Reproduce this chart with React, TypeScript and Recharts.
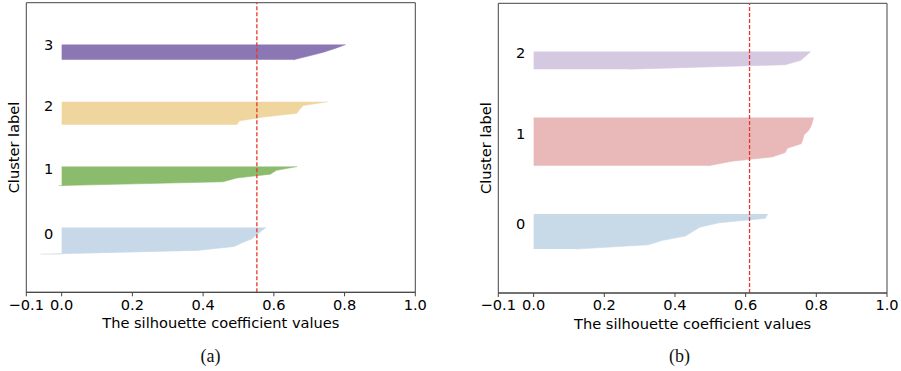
import React from 'react';
import { ComposedChart, Area, XAxis, YAxis, ReferenceLine, ReferenceArea, Scatter } from 'recharts';

const FONT = '"DejaVu Sans", sans-serif';
const FS = 14.6;

// ---- Panel (a): 4 clusters ----
const clusterLabelsA = ['0', '1', '2', '3'];
const silA0 = [-0.06, 0.383, 0.488, 0.51, 0.537, 0.55, 0.564, 0.578];
const silA1 = [-0.008, 0.456, 0.495, 0.59, 0.607, 0.666];
const silA2 = [0.495, 0.503, 0.57, 0.665, 0.673, 0.683, 0.752];
const silA3 = [0.655, 0.698, 0.74, 0.773, 0.803];
const avgA = 0.552;
const colorsA = ['#c7d9e8', '#8bbb6c', '#efd59e', '#8c77b5'];

// ---- Panel (b): 3 clusters ----
const clusterLabelsB = ['0', '1', '2'];
const silB0 = [0.12, 0.325, 0.365, 0.43, 0.45, 0.47, 0.525, 0.655, 0.663];
const silB1 = [0.495, 0.56, 0.675, 0.712, 0.718, 0.757, 0.762, 0.765, 0.778, 0.785, 0.789, 0.792];
const silB2 = [0.27, 0.712, 0.756, 0.77, 0.784];
const avgB = 0.611;
const colorsB = ['#c8dae8', '#e8b9b8', '#d5c8e1'];

const xTicks = [-0.1, 0.0, 0.2, 0.4, 0.6, 0.8, 1.0];
const xLabel = 'The silhouette coefficient values';
const yLabel = 'Cluster label';
const GAP = 10;

function buildPanel(clusters: number[][], labels: string[]) {
  const keys = clusters.map((_, i) => 'c' + i);
  const rows: any[] = [];
  const labelPts: any[] = [];
  let yLower = GAP;
  clusters.forEach((vals, i) => {
    vals.forEach((v, j) => {
      rows.push({ y: yLower + j, [keys[i]]: v });
    });
    labelPts.push({ x: -0.05, y: yLower + 0.5 * vals.length, label: labels[i] });
    yLower += vals.length + GAP;
  });
  return { rows, keys, labelPts, yMax: yLower };
}

const fmt = (v: number) => (v < 0 ? '\u2212' + Math.abs(v).toFixed(1) : v.toFixed(1));

function Panel(props: {
  clusters: number[][];
  labels: string[];
  colors: string[];
  avg: number;
  width: number;
  margin: any;
  yAxisWidth: number;
  left: number;
}) {
  const { rows, keys, labelPts, yMax } = buildPanel(props.clusters, props.labels);
  const yW = props.yAxisWidth;
  return (
    <div style={{ position: 'absolute', left: props.left, top: 0 }}>
      <ComposedChart
        width={props.width}
        height={371}
        data={rows}
        layout="vertical"
        margin={props.margin}
        style={{ fontFamily: FONT }}
      >
        <XAxis
          type="number"
          domain={[-0.1, 1.0]}
          ticks={xTicks}
          interval={0}
          tickFormatter={fmt}
          height={40}
          tickSize={4}
          tickMargin={3}
          stroke="#444"
          tick={{ fill: '#000', fontSize: FS, fontFamily: FONT }}
          allowDataOverflow
          label={(p: any) => {
            const vb = p.viewBox;
            return (
              <text
                x={vb.x + vb.width / 2}
                y={vb.y + 36}
                textAnchor="middle"
                fontSize={FS}
                fontFamily={FONT}
                fill="#000"
              >
                {xLabel}
              </text>
            );
          }}
        />
        <YAxis
          type="number"
          dataKey="y"
          domain={[0, yMax]}
          reversed
          width={yW}
          tick={false}
          tickLine={false}
          axisLine={false}
          allowDataOverflow
          label={(p: any) => {
            const vb = p.viewBox;
            const cx = vb.x + vb.width - 7.5;
            const cy = vb.y + vb.height / 2;
            return (
              <text
                x={cx}
                y={cy}
                textAnchor="middle"
                fontSize={FS}
                fontFamily={FONT}
                fill="#000"
                transform={`rotate(-90 ${cx} ${cy})`}
              >
                {yLabel}
              </text>
            );
          }}
        />
        {keys.map((k, i) => (
          <Area
            key={k}
            dataKey={k}
            type="linear"
            baseValue={0}
            fill={props.colors[i]}
            fillOpacity={1}
            stroke={props.colors[i]}
            strokeWidth={0.6}
            connectNulls={false}
            dot={false}
            activeDot={false}
            isAnimationActive={false}
          />
        ))}
        <Scatter
          data={labelPts}
          dataKey="x"
          isAnimationActive={false}
          shape={(p: any) => (
            <text x={p.cx} y={p.cy} fontSize={FS} fontFamily={FONT} fill="#000">
              {p.payload.label}
            </text>
          )}
        />
        <ReferenceLine x={props.avg} stroke="#e8382b" strokeWidth={1.3} strokeDasharray="4 2" />
        <ReferenceArea x1={-0.1} x2={1.0} y1={0} y2={yMax} fill="none" fillOpacity={0} stroke="#444" strokeWidth={1} />
      </ComposedChart>
    </div>
  );
}

export default function App() {
  return (
    <div style={{ position: 'absolute', left: 0, top: 0, width: 901, height: 371, background: '#fff' }}>
      <Panel
        clusters={[silA0, silA1, silA2, silA3]}
        labels={clusterLabelsA}
        colors={colorsA}
        avg={avgA}
        width={450}
        left={0}
        yAxisWidth={26.3}
        margin={{ top: 2.7, right: 34.7, left: 0, bottom: 38.7 }}
      />
      <Panel
        clusters={[silB0, silB1, silB2]}
        labels={clusterLabelsB}
        colors={colorsB}
        avg={avgB}
        width={451}
        left={450}
        yAxisWidth={48.3}
        margin={{ top: 3.3, right: 14, left: 0, bottom: 38 }}
      />
      <svg width={901} height={371} style={{ position: 'absolute', left: 0, top: 0, pointerEvents: 'none' }}>
        <text x={210.4} y={361.5} textAnchor="middle" fontSize={18} fontFamily={'"Liberation Serif", serif'} fill="#111">
          (a)
        </text>
        <text x={679.5} y={361.5} textAnchor="middle" fontSize={18} fontFamily={'"Liberation Serif", serif'} fill="#111">
          (b)
        </text>
      </svg>
    </div>
  );
}
